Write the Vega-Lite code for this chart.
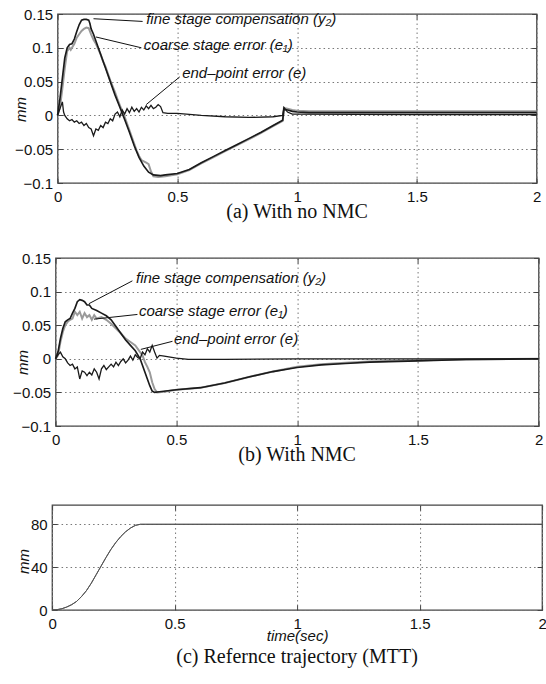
{
  "$schema": "https://vega.github.io/schema/vega-lite/v6.json",
  "background": "white",
  "padding": {"left": 2, "top": 6, "right": 0, "bottom": 0},
  "columns": 1,
  "center": true,
  "spacing": 27,
  "datasets": {
    "a": [
      {"s":"e1","t":0,"v":0},{"s":"e1","t":0.01,"v":0.012},{"s":"e1","t":0.02,"v":0.04},{"s":"e1","t":0.03,"v":0.07},{"s":"e1","t":0.04,"v":0.095},{"s":"e1","t":0.05,"v":0.1},{"s":"e1","t":0.055,"v":0.097},{"s":"e1","t":0.06,"v":0.1},{"s":"e1","t":0.07,"v":0.106},{"s":"e1","t":0.08,"v":0.115},{"s":"e1","t":0.09,"v":0.12},{"s":"e1","t":0.1,"v":0.125},{"s":"e1","t":0.11,"v":0.128},{"s":"e1","t":0.12,"v":0.13},{"s":"e1","t":0.13,"v":0.129},{"s":"e1","t":0.14,"v":0.12},{"s":"e1","t":0.15,"v":0.112},{"s":"e1","t":0.16,"v":0.106},{"s":"e1","t":0.17,"v":0.098},{"s":"e1","t":0.18,"v":0.09},{"s":"e1","t":0.19,"v":0.08},{"s":"e1","t":0.2,"v":0.072},{"s":"e1","t":0.21,"v":0.062},{"s":"e1","t":0.22,"v":0.052},{"s":"e1","t":0.23,"v":0.043},{"s":"e1","t":0.24,"v":0.034},{"s":"e1","t":0.25,"v":0.024},{"s":"e1","t":0.26,"v":0.015},{"s":"e1","t":0.27,"v":0.006},{"s":"e1","t":0.28,"v":-0.002},{"s":"e1","t":0.29,"v":-0.012},{"s":"e1","t":0.3,"v":-0.022},{"s":"e1","t":0.31,"v":-0.032},{"s":"e1","t":0.32,"v":-0.042},{"s":"e1","t":0.33,"v":-0.052},{"s":"e1","t":0.34,"v":-0.06},{"s":"e1","t":0.35,"v":-0.066},{"s":"e1","t":0.36,"v":-0.068},{"s":"e1","t":0.37,"v":-0.07},{"s":"e1","t":0.38,"v":-0.072},{"s":"e1","t":0.39,"v":-0.083},{"s":"e1","t":0.4,"v":-0.09},{"s":"e1","t":0.42,"v":-0.091},{"s":"e1","t":0.45,"v":-0.09},{"s":"e1","t":0.5,"v":-0.087},{"s":"e1","t":0.55,"v":-0.081},{"s":"e1","t":0.6,"v":-0.071},{"s":"e1","t":0.65,"v":-0.062},{"s":"e1","t":0.7,"v":-0.053},{"s":"e1","t":0.75,"v":-0.044},{"s":"e1","t":0.8,"v":-0.035},{"s":"e1","t":0.85,"v":-0.026},{"s":"e1","t":0.9,"v":-0.016},{"s":"e1","t":0.94,"v":-0.008},{"s":"e1","t":0.945,"v":0.011},{"s":"e1","t":0.96,"v":0.01},{"s":"e1","t":0.98,"v":0.008},{"s":"e1","t":1.0,"v":0.007},{"s":"e1","t":1.05,"v":0.006},{"s":"e1","t":1.5,"v":0.006},{"s":"e1","t":2,"v":0.006},
      {"s":"y2","t":0,"v":0},{"s":"y2","t":0.01,"v":0.025},{"s":"y2","t":0.02,"v":0.055},{"s":"y2","t":0.03,"v":0.085},{"s":"y2","t":0.04,"v":0.1},{"s":"y2","t":0.05,"v":0.105},{"s":"y2","t":0.06,"v":0.106},{"s":"y2","t":0.07,"v":0.113},{"s":"y2","t":0.08,"v":0.124},{"s":"y2","t":0.09,"v":0.134},{"s":"y2","t":0.1,"v":0.141},{"s":"y2","t":0.11,"v":0.142},{"s":"y2","t":0.12,"v":0.142},{"s":"y2","t":0.13,"v":0.141},{"s":"y2","t":0.135,"v":0.136},{"s":"y2","t":0.14,"v":0.128},{"s":"y2","t":0.15,"v":0.12},{"s":"y2","t":0.16,"v":0.11},{"s":"y2","t":0.17,"v":0.1},{"s":"y2","t":0.18,"v":0.09},{"s":"y2","t":0.19,"v":0.08},{"s":"y2","t":0.2,"v":0.07},{"s":"y2","t":0.22,"v":0.05},{"s":"y2","t":0.24,"v":0.03},{"s":"y2","t":0.26,"v":0.012},{"s":"y2","t":0.27,"v":0.003},{"s":"y2","t":0.28,"v":-0.006},{"s":"y2","t":0.3,"v":-0.025},{"s":"y2","t":0.32,"v":-0.045},{"s":"y2","t":0.34,"v":-0.062},{"s":"y2","t":0.36,"v":-0.075},{"s":"y2","t":0.38,"v":-0.084},{"s":"y2","t":0.4,"v":-0.088},{"s":"y2","t":0.43,"v":-0.089},{"s":"y2","t":0.45,"v":-0.088},{"s":"y2","t":0.5,"v":-0.086},{"s":"y2","t":0.55,"v":-0.08},{"s":"y2","t":0.6,"v":-0.07},{"s":"y2","t":0.65,"v":-0.061},{"s":"y2","t":0.7,"v":-0.052},{"s":"y2","t":0.75,"v":-0.043},{"s":"y2","t":0.8,"v":-0.034},{"s":"y2","t":0.85,"v":-0.025},{"s":"y2","t":0.9,"v":-0.015},{"s":"y2","t":0.94,"v":-0.007},{"s":"y2","t":0.945,"v":0.009},{"s":"y2","t":0.96,"v":0.008},{"s":"y2","t":0.98,"v":0.006},{"s":"y2","t":1.0,"v":0.005},{"s":"y2","t":1.05,"v":0.004},{"s":"y2","t":1.5,"v":0.004},{"s":"y2","t":2,"v":0.004},
      {"s":"e","t":0,"v":0},{"s":"e","t":0.01,"v":0.01},{"s":"e","t":0.02,"v":0.02},{"s":"e","t":0.025,"v":0.005},{"s":"e","t":0.03,"v":0},{"s":"e","t":0.04,"v":-0.005},{"s":"e","t":0.05,"v":-0.008},{"s":"e","t":0.06,"v":-0.006},{"s":"e","t":0.07,"v":-0.01},{"s":"e","t":0.08,"v":-0.008},{"s":"e","t":0.09,"v":-0.012},{"s":"e","t":0.1,"v":-0.01},{"s":"e","t":0.11,"v":-0.015},{"s":"e","t":0.12,"v":-0.012},{"s":"e","t":0.13,"v":-0.018},{"s":"e","t":0.14,"v":-0.02},{"s":"e","t":0.15,"v":-0.03},{"s":"e","t":0.16,"v":-0.02},{"s":"e","t":0.17,"v":-0.022},{"s":"e","t":0.18,"v":-0.015},{"s":"e","t":0.19,"v":-0.018},{"s":"e","t":0.2,"v":-0.01},{"s":"e","t":0.21,"v":-0.012},{"s":"e","t":0.22,"v":-0.005},{"s":"e","t":0.23,"v":-0.008},{"s":"e","t":0.24,"v":0.002},{"s":"e","t":0.25,"v":0.005},{"s":"e","t":0.26,"v":-0.002},{"s":"e","t":0.27,"v":0.008},{"s":"e","t":0.28,"v":0.002},{"s":"e","t":0.29,"v":0.01},{"s":"e","t":0.3,"v":0.004},{"s":"e","t":0.31,"v":0.012},{"s":"e","t":0.32,"v":0.006},{"s":"e","t":0.33,"v":0.01},{"s":"e","t":0.34,"v":0.005},{"s":"e","t":0.35,"v":0.012},{"s":"e","t":0.36,"v":0.008},{"s":"e","t":0.37,"v":0.014},{"s":"e","t":0.38,"v":0.01},{"s":"e","t":0.39,"v":0.015},{"s":"e","t":0.4,"v":0.01},{"s":"e","t":0.41,"v":0.012},{"s":"e","t":0.42,"v":0.016},{"s":"e","t":0.43,"v":0.013},{"s":"e","t":0.44,"v":0.004},{"s":"e","t":0.46,"v":0.003},{"s":"e","t":0.5,"v":0.003},{"s":"e","t":0.6,"v":0.0},{"s":"e","t":0.7,"v":-0.002},{"s":"e","t":0.8,"v":-0.003},{"s":"e","t":0.9,"v":-0.002},{"s":"e","t":0.94,"v":0.0},{"s":"e","t":0.945,"v":0.012},{"s":"e","t":0.96,"v":0.005},{"s":"e","t":0.98,"v":0.002},{"s":"e","t":1.0,"v":0.002},{"s":"e","t":1.5,"v":0.001},{"s":"e","t":2,"v":0.001}
    ],
    "b": [
      {"s":"e1","t":0,"v":0},{"s":"e1","t":0.01,"v":0.005},{"s":"e1","t":0.02,"v":0.025},{"s":"e1","t":0.03,"v":0.04},{"s":"e1","t":0.04,"v":0.05},{"s":"e1","t":0.05,"v":0.055},{"s":"e1","t":0.06,"v":0.058},{"s":"e1","t":0.07,"v":0.06},{"s":"e1","t":0.08,"v":0.07},{"s":"e1","t":0.09,"v":0.065},{"s":"e1","t":0.1,"v":0.07},{"s":"e1","t":0.11,"v":0.06},{"s":"e1","t":0.12,"v":0.068},{"s":"e1","t":0.13,"v":0.062},{"s":"e1","t":0.14,"v":0.065},{"s":"e1","t":0.15,"v":0.058},{"s":"e1","t":0.16,"v":0.065},{"s":"e1","t":0.17,"v":0.06},{"s":"e1","t":0.19,"v":0.062},{"s":"e1","t":0.21,"v":0.058},{"s":"e1","t":0.23,"v":0.052},{"s":"e1","t":0.25,"v":0.045},{"s":"e1","t":0.27,"v":0.038},{"s":"e1","t":0.29,"v":0.03},{"s":"e1","t":0.31,"v":0.025},{"s":"e1","t":0.33,"v":0.02},{"s":"e1","t":0.35,"v":0.01},{"s":"e1","t":0.36,"v":0.005},{"s":"e1","t":0.37,"v":-0.005},{"s":"e1","t":0.38,"v":-0.012},{"s":"e1","t":0.39,"v":-0.02},{"s":"e1","t":0.4,"v":-0.035},{"s":"e1","t":0.41,"v":-0.045},{"s":"e1","t":0.42,"v":-0.05},{"s":"e1","t":0.45,"v":-0.049},{"s":"e1","t":0.5,"v":-0.046},{"s":"e1","t":0.6,"v":-0.043},{"s":"e1","t":0.7,"v":-0.036},{"s":"e1","t":0.8,"v":-0.027},{"s":"e1","t":0.9,"v":-0.019},{"s":"e1","t":1.0,"v":-0.012},{"s":"e1","t":1.1,"v":-0.008},{"s":"e1","t":1.2,"v":-0.006},{"s":"e1","t":1.3,"v":-0.004},{"s":"e1","t":1.5,"v":-0.002},{"s":"e1","t":1.7,"v":-0.001},{"s":"e1","t":2,"v":0},
      {"s":"y2","t":0,"v":0},{"s":"y2","t":0.01,"v":0.01},{"s":"y2","t":0.02,"v":0.03},{"s":"y2","t":0.03,"v":0.045},{"s":"y2","t":0.04,"v":0.055},{"s":"y2","t":0.05,"v":0.058},{"s":"y2","t":0.06,"v":0.06},{"s":"y2","t":0.07,"v":0.068},{"s":"y2","t":0.08,"v":0.075},{"s":"y2","t":0.09,"v":0.085},{"s":"y2","t":0.1,"v":0.088},{"s":"y2","t":0.11,"v":0.087},{"s":"y2","t":0.12,"v":0.085},{"s":"y2","t":0.13,"v":0.08},{"s":"y2","t":0.14,"v":0.08},{"s":"y2","t":0.15,"v":0.075},{"s":"y2","t":0.17,"v":0.072},{"s":"y2","t":0.19,"v":0.068},{"s":"y2","t":0.21,"v":0.064},{"s":"y2","t":0.23,"v":0.058},{"s":"y2","t":0.25,"v":0.048},{"s":"y2","t":0.27,"v":0.038},{"s":"y2","t":0.29,"v":0.028},{"s":"y2","t":0.31,"v":0.02},{"s":"y2","t":0.33,"v":0.012},{"s":"y2","t":0.35,"v":0.0},{"s":"y2","t":0.36,"v":-0.01},{"s":"y2","t":0.37,"v":-0.02},{"s":"y2","t":0.38,"v":-0.03},{"s":"y2","t":0.39,"v":-0.04},{"s":"y2","t":0.4,"v":-0.048},{"s":"y2","t":0.41,"v":-0.05},{"s":"y2","t":0.43,"v":-0.049},{"s":"y2","t":0.5,"v":-0.046},{"s":"y2","t":0.6,"v":-0.043},{"s":"y2","t":0.7,"v":-0.036},{"s":"y2","t":0.8,"v":-0.027},{"s":"y2","t":0.9,"v":-0.019},{"s":"y2","t":1.0,"v":-0.013},{"s":"y2","t":1.1,"v":-0.009},{"s":"y2","t":1.2,"v":-0.007},{"s":"y2","t":1.3,"v":-0.005},{"s":"y2","t":1.5,"v":-0.003},{"s":"y2","t":1.7,"v":-0.001},{"s":"y2","t":2,"v":0},
      {"s":"e","t":0,"v":0},{"s":"e","t":0.01,"v":0.006},{"s":"e","t":0.02,"v":0.01},{"s":"e","t":0.03,"v":0.003},{"s":"e","t":0.04,"v":0},{"s":"e","t":0.05,"v":-0.006},{"s":"e","t":0.06,"v":-0.01},{"s":"e","t":0.07,"v":-0.008},{"s":"e","t":0.08,"v":-0.015},{"s":"e","t":0.09,"v":-0.012},{"s":"e","t":0.1,"v":-0.03},{"s":"e","t":0.11,"v":-0.018},{"s":"e","t":0.12,"v":-0.02},{"s":"e","t":0.13,"v":-0.025},{"s":"e","t":0.14,"v":-0.02},{"s":"e","t":0.15,"v":-0.024},{"s":"e","t":0.16,"v":-0.015},{"s":"e","t":0.17,"v":-0.02},{"s":"e","t":0.18,"v":-0.03},{"s":"e","t":0.19,"v":-0.015},{"s":"e","t":0.2,"v":-0.01},{"s":"e","t":0.21,"v":-0.016},{"s":"e","t":0.22,"v":-0.012},{"s":"e","t":0.23,"v":-0.008},{"s":"e","t":0.24,"v":-0.012},{"s":"e","t":0.25,"v":-0.005},{"s":"e","t":0.26,"v":-0.01},{"s":"e","t":0.27,"v":-0.004},{"s":"e","t":0.28,"v":0},{"s":"e","t":0.29,"v":-0.006},{"s":"e","t":0.3,"v":-0.002},{"s":"e","t":0.31,"v":0.004},{"s":"e","t":0.32,"v":-0.002},{"s":"e","t":0.33,"v":0.006},{"s":"e","t":0.34,"v":0.002},{"s":"e","t":0.35,"v":0.0},{"s":"e","t":0.36,"v":0.01},{"s":"e","t":0.37,"v":0.006},{"s":"e","t":0.38,"v":0.015},{"s":"e","t":0.39,"v":0.01},{"s":"e","t":0.4,"v":0.02},{"s":"e","t":0.41,"v":0.01},{"s":"e","t":0.42,"v":0.001},{"s":"e","t":0.43,"v":0.005},{"s":"e","t":0.45,"v":0.004},{"s":"e","t":0.5,"v":0.001},{"s":"e","t":0.55,"v":-0.001},{"s":"e","t":0.7,"v":-0.001},{"s":"e","t":1.0,"v":0},{"s":"e","t":2,"v":0}
    ],
    "c": [
      {"t":0,"v":0},{"t":0.02,"v":0.3},{"t":0.04,"v":1.2},{"t":0.06,"v":2.8},{"t":0.08,"v":5},{"t":0.1,"v":8},{"t":0.12,"v":12.5},{"t":0.14,"v":18},{"t":0.16,"v":25},{"t":0.18,"v":33},{"t":0.2,"v":41},{"t":0.22,"v":49},{"t":0.24,"v":56.5},{"t":0.26,"v":63},{"t":0.28,"v":68.5},{"t":0.3,"v":73},{"t":0.32,"v":76.5},{"t":0.34,"v":79},{"t":0.36,"v":80},{"t":0.38,"v":80},{"t":2,"v":80}
    ],
    "ann": [
      {"p":"a","label":"fine stage compensation (y₂)","tx":0.37,"ty":0.143,"x1":0.355,"y1":0.139,"x2":0.15,"y2":0.143},
      {"p":"a","label":"coarse stage error (e₁)","tx":0.36,"ty":0.104,"x1":0.35,"y1":0.1,"x2":0.16,"y2":0.116},
      {"p":"a","label":"end–point error (e)","tx":0.52,"ty":0.063,"x1":0.51,"y1":0.057,"x2":0.37,"y2":0.016},
      {"p":"b","label":"fine stage compensation (y₂)","tx":0.333,"ty":0.12,"x1":0.318,"y1":0.116,"x2":0.138,"y2":0.082},
      {"p":"b","label":"coarse stage error (e₁)","tx":0.345,"ty":0.071,"x1":0.339,"y1":0.066,"x2":0.159,"y2":0.059},
      {"p":"b","label":"end–point error (e)","tx":0.49,"ty":0.029,"x1":0.484,"y1":0.026,"x2":0.353,"y2":0.014}
    ]
  },
  "config": {
    "view": {"stroke": "#444", "strokeWidth": 1.3},
    "axis": {
      "labelFont": "Liberation Sans", "labelFontSize": 15, "labelColor": "#111",
      "domain": false, "grid": true, "gridColor": "#777", "gridDash": [1.5, 3], "gridWidth": 1,
      "ticks": true, "tickColor": "#444", "tickSize": -5, "labelPadding": 10, "labelFlush": false,
      "titleFont": "Liberation Sans", "titleFontStyle": "italic", "titleFontWeight": "normal", "titleFontSize": 15, "titleColor": "#111"
    },
    "title": {"font": "Liberation Serif", "fontSize": 20, "fontWeight": "normal", "color": "#111", "orient": "bottom", "anchor": "middle", "offset": -2}
  },
  "concat": [
    {
      "width": 479, "height": 169,
      "title": {"text": "(a)  With no NMC"},
      "layer": [
        {
          "data": {"name": "a"},
          "mark": {"type": "line"},
          "encoding": {
            "x": {"field": "t", "type": "quantitative", "scale": {"domain": [0, 2], "nice": false}, "axis": {"values": [0, 0.5, 1, 1.5, 2], "format": ".1~f", "title": null, "labelPadding": 11}},
            "y": {"field": "v", "type": "quantitative", "scale": {"domain": [-0.1, 0.15], "nice": false, "zero": false}, "axis": {"values": [-0.1, -0.05, 0, 0.05, 0.1, 0.15], "format": ".2~f", "title": "mm", "titleX": -37, "titleY": 95, "titleAngle": 270, "titleBaseline": "middle", "minExtent": 54}},
            "color": {"field": "s", "type": "nominal", "scale": {"domain": ["e1", "y2", "e"], "range": ["#9a9a9a", "#1a1a1a", "#1a1a1a"]}, "legend": null},
            "strokeWidth": {"field": "s", "type": "ordinal", "scale": {"domain": ["e1", "y2", "e"], "range": [2, 1.3, 1]}, "legend": null}
          }
        },
        {
          "data": {"name": "ann"},
          "transform": [{"filter": "datum.p == 'a'"}],
          "mark": {"type": "rule", "color": "#111", "strokeWidth": 1},
          "encoding": {
            "x": {"field": "x1", "type": "quantitative", "scale": {"domain": [0, 2], "nice": false}, "axis": {"orient": "top", "values": [0, 0.5, 1, 1.5, 2], "labels": false, "grid": false, "title": null}},
            "y": {"field": "y1", "type": "quantitative", "scale": {"domain": [-0.1, 0.15], "nice": false, "zero": false}, "axis": {"orient": "right", "values": [-0.1, -0.05, 0, 0.05, 0.1, 0.15], "labels": false, "grid": false, "title": null}},
            "x2": {"field": "x2"},
            "y2": {"field": "y2"}
          }
        },
        {
          "data": {"name": "ann"},
          "transform": [{"filter": "datum.p == 'a'"}],
          "mark": {"type": "text", "align": "left", "baseline": "middle", "font": "Liberation Sans", "fontStyle": "italic", "fontSize": 15, "color": "#111"},
          "encoding": {
            "x": {"field": "tx", "type": "quantitative", "scale": {"domain": [0, 2], "nice": false}, "axis": null},
            "y": {"field": "ty", "type": "quantitative", "scale": {"domain": [-0.1, 0.15], "nice": false, "zero": false}, "axis": null},
            "text": {"field": "label"}
          }
        }
      ],
      "resolve": {"axis": {"x": "independent", "y": "independent"}}
    },
    {
      "width": 483, "height": 168,
      "title": {"text": "(b)  With NMC"},
      "layer": [
        {
          "data": {"name": "b"},
          "mark": {"type": "line"},
          "encoding": {
            "x": {"field": "t", "type": "quantitative", "scale": {"domain": [0, 2], "nice": false}, "axis": {"values": [0, 0.5, 1, 1.5, 2], "format": ".1~f", "title": null, "labelPadding": 11}},
            "y": {"field": "v", "type": "quantitative", "scale": {"domain": [-0.1, 0.15], "nice": false, "zero": false}, "axis": {"values": [-0.1, -0.05, 0, 0.05, 0.1, 0.15], "format": ".2~f", "title": "mm", "titleX": -33, "titleY": 104, "titleAngle": 270, "titleBaseline": "middle", "minExtent": 50}},
            "color": {"field": "s", "type": "nominal", "scale": {"domain": ["e1", "y2", "e"], "range": ["#9a9a9a", "#1a1a1a", "#1a1a1a"]}, "legend": null},
            "strokeWidth": {"field": "s", "type": "ordinal", "scale": {"domain": ["e1", "y2", "e"], "range": [2, 1.3, 1]}, "legend": null}
          }
        },
        {
          "data": {"name": "ann"},
          "transform": [{"filter": "datum.p == 'b'"}],
          "mark": {"type": "rule", "color": "#111", "strokeWidth": 1},
          "encoding": {
            "x": {"field": "x1", "type": "quantitative", "scale": {"domain": [0, 2], "nice": false}, "axis": {"orient": "top", "values": [0, 0.5, 1, 1.5, 2], "labels": false, "grid": false, "title": null}},
            "y": {"field": "y1", "type": "quantitative", "scale": {"domain": [-0.1, 0.15], "nice": false, "zero": false}, "axis": {"orient": "right", "values": [-0.1, -0.05, 0, 0.05, 0.1, 0.15], "labels": false, "grid": false, "title": null}},
            "x2": {"field": "x2"},
            "y2": {"field": "y2"}
          }
        },
        {
          "data": {"name": "ann"},
          "transform": [{"filter": "datum.p == 'b'"}],
          "mark": {"type": "text", "align": "left", "baseline": "middle", "font": "Liberation Sans", "fontStyle": "italic", "fontSize": 15, "color": "#111"},
          "encoding": {
            "x": {"field": "tx", "type": "quantitative", "scale": {"domain": [0, 2], "nice": false}, "axis": null},
            "y": {"field": "ty", "type": "quantitative", "scale": {"domain": [-0.1, 0.15], "nice": false, "zero": false}, "axis": null},
            "text": {"field": "label"}
          }
        }
      ],
      "resolve": {"axis": {"x": "independent", "y": "independent"}}
    },
    {
      "width": 490, "height": 105,
      "title": {"text": "(c)  Refernce trajectory  (MTT)", "offset": 4},
      "data": {"name": "c"},
      "layer": [
        {
          "mark": {"type": "line", "color": "#555", "strokeWidth": 1},
          "encoding": {
            "x": {"field": "t", "type": "quantitative", "scale": {"domain": [0, 2], "nice": false}, "axis": {"values": [0, 0.5, 1, 1.5, 2], "format": ".1~f", "title": "time(sec)", "labelPadding": 11, "titlePadding": -3}},
            "y": {"field": "v", "type": "quantitative", "scale": {"domain": [0, 98], "nice": false}, "axis": {"values": [0, 40, 80], "format": "d", "title": "mm", "titleX": -29, "titleY": 56, "titleAngle": 270, "titleBaseline": "middle", "minExtent": 35}}
          }
        },
        {
          "mark": {"type": "line", "color": "#555", "strokeWidth": 1},
          "encoding": {
            "x": {"field": "t", "type": "quantitative", "scale": {"domain": [0, 2], "nice": false}, "axis": {"orient": "top", "values": [0, 0.5, 1, 1.5, 2], "labels": false, "grid": false, "title": null, "minExtent": 11}},
            "y": {"field": "v", "type": "quantitative", "scale": {"domain": [0, 98], "nice": false}, "axis": {"orient": "right", "values": [0, 40, 80], "labels": false, "grid": false, "title": null}}
          }
        }
      ],
      "resolve": {"axis": {"x": "independent", "y": "independent"}}
    }
  ]
}
